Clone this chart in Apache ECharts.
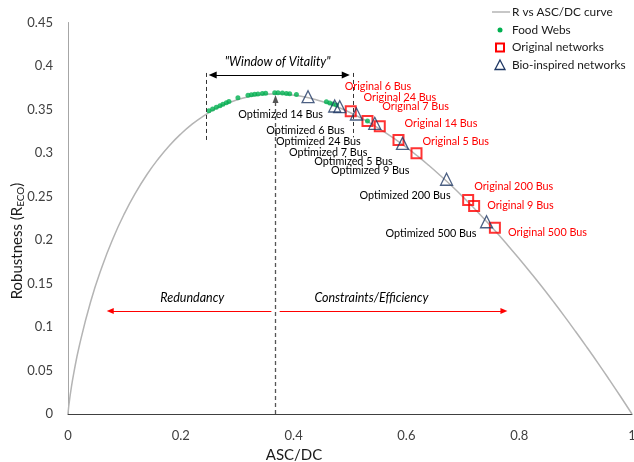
<!DOCTYPE html>
<html><head><meta charset="utf-8">
<script src="https://cdn.jsdelivr.net/npm/echarts@6/dist/echarts.min.js"></script>
<style>html,body{margin:0;padding:0;background:#fff}#c{width:634px;height:462px}</style>
</head><body><div id="c"></div>
<script>
// ---- data ----
const curveX = [0,0.001,0.002,0.005,0.01,0.02,0.04,0.06,0.08,0.10,0.12,0.14,0.16,0.18,0.20,0.22,0.24,0.26,0.28,0.30,0.32,0.34,0.36,0.38,0.40,0.42,0.44,0.46,0.48,0.50,0.52,0.54,0.56,0.58,0.60,0.62,0.64,0.66,0.68,0.70,0.72,0.74,0.76,0.78,0.80,0.82,0.84,0.86,0.88,0.90,0.92,0.94,0.96,0.98,1.00];
const curveY = [0,0.0069,0.0124,0.0265,0.0461,0.0782,0.1288,0.1688,0.2021,0.2303,0.2544,0.2753,0.2932,0.3087,0.3219,0.3331,0.3425,0.3502,0.3564,0.3612,0.3646,0.3668,0.3678,0.3677,0.3665,0.3644,0.3612,0.3572,0.3523,0.3466,0.3400,0.3327,0.3247,0.3159,0.3065,0.2964,0.2856,0.2742,0.2623,0.2497,0.2365,0.2228,0.2086,0.1938,0.1785,0.1627,0.1465,0.1297,0.1125,0.0948,0.0767,0.0582,0.0392,0.0198,0];

const foodX = [0.2499,0.2564,0.2630,0.2694,0.2747,0.2807,0.2854,0.3013,0.3191,0.3251,0.3310,0.3368,0.3446,0.3505,0.3665,0.3723,0.3801,0.3872,0.3931,0.4050,0.4582,0.4641,0.4699,0.4760,0.5310];
const foodY = [0.3486,0.3506,0.3525,0.3544,0.3560,0.3578,0.3592,0.3636,0.3663,0.3670,0.3675,0.3678,0.3684,0.3688,0.3692,0.3692,0.3689,0.3684,0.3680,0.3672,0.3590,0.3575,0.3563,0.3552,0.3368];

const origNames = ['Original 6 Bus','Original 24 Bus','Original 7 Bus','Original 14 Bus','Original 5 Bus','Original 200 Bus','Original 9 Bus','Original 500 Bus'];
const origX = [0.5013,0.5310,0.5528,0.5860,0.6179,0.7095,0.7201,0.7569];
const origY = [0.3479,0.3368,0.3307,0.3149,0.2997,0.2460,0.2391,0.2141];

const bioNames = ['Optimized 14 Bus','Optimized 6 Bus','Optimized 24 Bus','Optimized 7 Bus','Optimized 5 Bus','Optimized 9 Bus','Optimized 200 Bus','Optimized 500 Bus'];
const bioX = [0.4256,0.4729,0.4818,0.5114,0.5439,0.5931,0.6712,0.7421];
const bioY = [0.3647,0.3540,0.3532,0.3448,0.3341,0.3111,0.2698,0.2210];

const xTickLabels = ['0','0.2','0.4','0.6','0.8','1'];
const yTickLabels = ['0','0.05','0.1','0.15','0.2','0.25','0.3','0.35','0.4','0.45'];

// ---- label placement (styles, not data): pixel offsets from each marker ----
const origLabelOffsets = [[-6,-24.7],[-4,-23],[2.5,-19.7],[6,-17],[6,-11.3],[6,-13],[13,0],[13,4.3]];   // left edge
const bioLabelOffsets = [[15,17.3],[10,24],[21,34.3],[11,38],[18,37.7],[7,26.7],[4,16.7],[-10,11.3]];  // right edge

// annotation anchors in data coordinates
const annoTexts = [
  {text:'"Window of Vitality"', at:[0.3718,0.4046]},
  {text:'Redundancy', at:[0.2204,0.1333]},
  {text:'Constraints/Efficiency', at:[0.538,0.1333]}
];

const FONT = 'Lato';
const chart = echarts.init(document.getElementById('c'), null, {renderer:'canvas'});

const arrowBlack = {color:'#000', width:1, type:'solid'};
const option = {
  animation:false,
  grid:{left:68, right:2, top:22.5, bottom:48, outerBoundsMode:'none', containLabel:false},
  xAxis:{type:'value', min:0, max:1, interval:0.2,
    axisLine:{show:true, lineStyle:{color:'#404040', width:1}}, axisTick:{show:false}, splitLine:{show:false},
    axisLabel:{fontFamily:FONT, fontSize:13, color:'#404040', margin:15,
      formatter:(v)=> xTickLabels[Math.round(v/0.2)]}},
  yAxis:{type:'value', min:0, max:0.45, interval:0.05,
    axisLine:{show:true, lineStyle:{color:'#a6a6a6', width:1}}, axisTick:{show:false}, splitLine:{show:false},
    axisLabel:{fontFamily:FONT, fontSize:13, color:'#404040', margin:15,
      formatter:(v)=> yTickLabels[Math.round(v/0.05)]}},
  series:[
    {type:'line', name:'R vs ASC/DC curve', data:curveX.map((x,i)=>[x,curveY[i]]), symbol:'none', smooth:true,
     lineStyle:{color:'#b4b4b4', width:1.5}, z:1, silent:true,
     markLine:{silent:true, animation:false, label:{show:false}, symbolSize:[7,8],
       data:[
         [{coord:[0.2565,0.3897], symbol:'triangle', lineStyle:arrowBlack, itemStyle:{color:'#000'}},{coord:[0.4925,0.3897], symbol:'triangle', itemStyle:{color:'#000'}}],
         [{coord:[0.2458,0.392], symbol:'none', lineStyle:{color:'#333', width:1, type:[4,3]}},{coord:[0.2458,0.3126], symbol:'none'}],
         [{coord:[0.505,0.392], symbol:'none', lineStyle:{color:'#333', width:1, type:[4,3]}},{coord:[0.505,0.318], symbol:'none'}],
         [{coord:[0.3679,0], symbol:'none', lineStyle:{color:'#555', width:1.3, type:[4,3]}},{coord:[0.3679,0.362], symbol:'triangle', symbolSize:[6,8], itemStyle:{color:'#000'}}],
         [{coord:[0.3606,0.1184], symbol:'none', lineStyle:{color:'#ff0000', width:1, type:'solid'}},{coord:[0.0749,0.1184], symbol:'triangle', symbolSize:[6,7], itemStyle:{color:'#ff0000'}}],
         [{coord:[0.3753,0.1184], symbol:'none', lineStyle:{color:'#ff0000', width:1, type:'solid'}},{coord:[0.7729,0.1184], symbol:'triangle', symbolSize:[6,7], itemStyle:{color:'#ff0000'}}]
       ]}},
    {type:'scatter', name:'Food Webs', data:foodX.map((x,i)=>[x,foodY[i]]), symbol:'circle', symbolSize:5,
     itemStyle:{color:'#00b050'}, z:2, silent:true},
    {type:'scatter', name:'Original networks', symbol:'rect', symbolSize:10, z:3, silent:true,
     itemStyle:{color:'rgba(0,0,0,0)', borderColor:'#ff0000', borderWidth:2},
     data:origX.map((x,i)=>({name:origNames[i], value:[x,origY[i]]}))},
    {type:'scatter', name:'Bio-inspired networks', symbol:'triangle', symbolSize:12, z:4, silent:true,
     itemStyle:{color:'rgba(0,0,0,0)', borderColor:'#1f3864', borderWidth:1.3},
     data:bioX.map((x,i)=>({name:bioNames[i], value:[x,bioY[i]]}))}
  ]
};
chart.setOption(option);

// graphic: point labels, annotation texts, axis titles and legend
const g = [];
const LBL = '10.8px '+FONT;
origX.forEach((x,i)=>{
  const p = chart.convertToPixel({gridIndex:0}, [x, origY[i]]);
  g.push({type:'text', x:p[0]+origLabelOffsets[i][0], y:p[1]+origLabelOffsets[i][1], silent:true, z:10,
    style:{text:origNames[i], fill:'#ff0000', font:LBL, align:'left', verticalAlign:'middle'}});
});
bioX.forEach((x,i)=>{
  const p = chart.convertToPixel({gridIndex:0}, [x, bioY[i]]);
  g.push({type:'text', x:p[0]+bioLabelOffsets[i][0], y:p[1]+bioLabelOffsets[i][1], silent:true, z:10,
    style:{text:bioNames[i], fill:'#000', font:LBL, align:'right', verticalAlign:'middle'}});
});
annoTexts.forEach(a=>{
  const p = chart.convertToPixel({gridIndex:0}, a.at);
  g.push({type:'text', x:p[0], y:p[1], silent:true, z:10,
    style:{text:a.text, fill:'#000', font:'italic 12.5px '+FONT, align:'center', verticalAlign:'middle'}});
});
g.push({type:'text', x:17, y:241, rotation:Math.PI/2, silent:true,
  style:{text:'{a|Robustness (R}{b|ECO}{a|)}', align:'center', verticalAlign:'middle',
    rich:{a:{fontFamily:FONT, fontSize:15, fill:'#1a1a1a', lineHeight:18},
          b:{fontFamily:FONT, fontSize:10, fill:'#1a1a1a', lineHeight:18, verticalAlign:'bottom', padding:[6,0,0,0]}}}});
g.push({type:'text', x:294, y:455, silent:true,
  style:{text:'ASC/DC', fill:'#1a1a1a', font:'15px '+FONT, align:'center', verticalAlign:'middle'}});
// legend
const lgFont = '11.8px '+FONT;
const lgY = [12,30,47.5,65];
const lgTexts = ['R vs ASC/DC curve','Food Webs','Original networks','Bio-inspired networks'];
g.push({type:'line', shape:{x1:492,y1:lgY[0],x2:510,y2:lgY[0]}, style:{stroke:'#b4b4b4', lineWidth:1.5}, silent:true});
g.push({type:'circle', shape:{cx:500,cy:lgY[1],r:2.5}, style:{fill:'#00b050'}, silent:true});
g.push({type:'rect', shape:{x:496,y:lgY[2]-4,width:8,height:8}, style:{fill:'none', stroke:'#ff0000', lineWidth:2}, silent:true});
g.push({type:'polygon', shape:{points:[[500,lgY[3]-5],[505,lgY[3]+4.5],[495,lgY[3]+4.5]]}, style:{fill:'none', stroke:'#1f3864', lineWidth:1.3}, silent:true});
lgTexts.forEach((t,i)=>{
  g.push({type:'text', x:512, y:lgY[i], silent:true, style:{text:t, fill:'#1a1a1a', font:lgFont, align:'left', verticalAlign:'middle'}});
});
chart.setOption({graphic:g});
</script>
</body></html>
